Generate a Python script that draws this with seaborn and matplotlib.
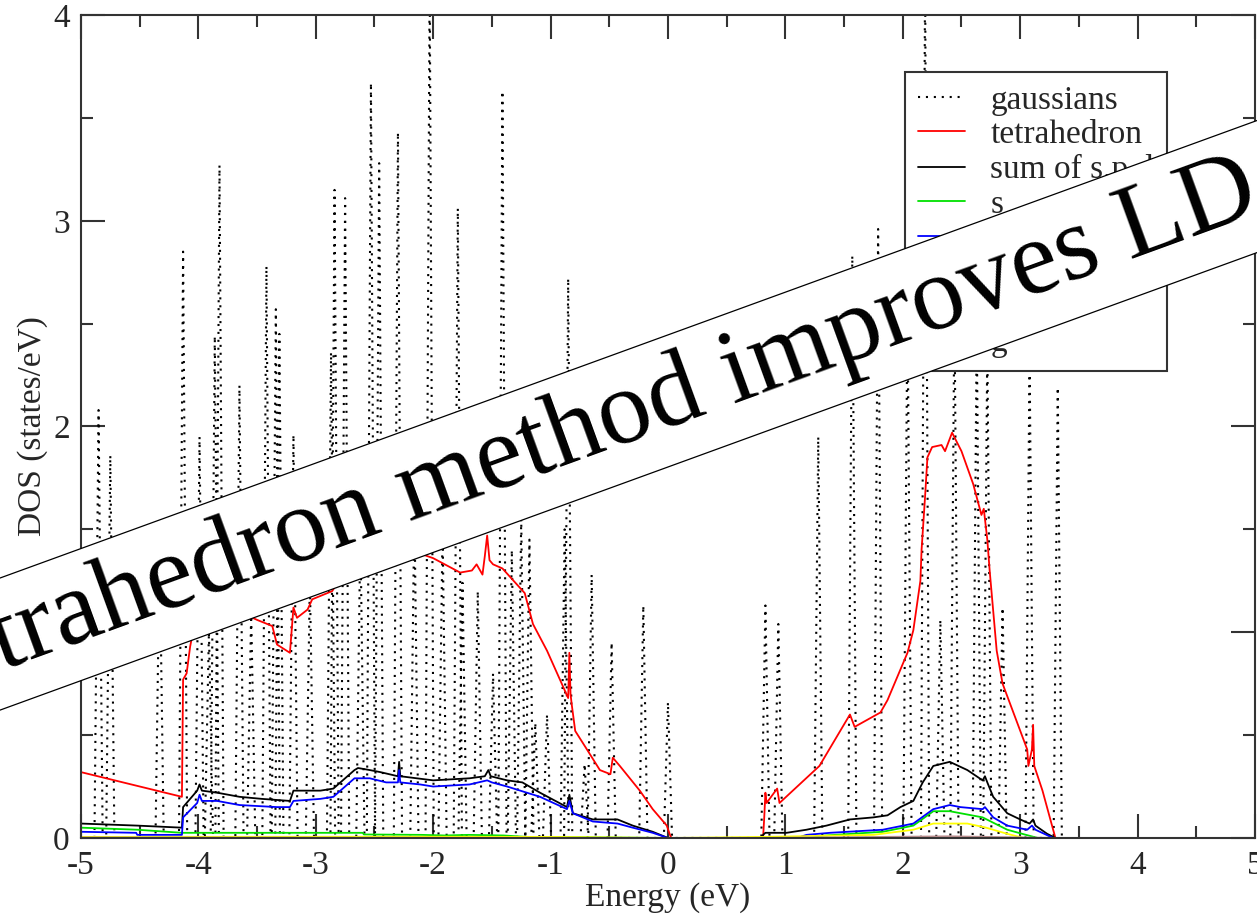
import numpy as np
import matplotlib
matplotlib.use("Agg")
import matplotlib.pyplot as plt
import seaborn as sns

sns.set_theme(style="ticks")
plt.rcParams['font.family'] = ['Liberation Serif', 'DejaVu Serif']
plt.rcParams['axes.unicode_minus'] = False

# gaussian-broadened DOS: spike centres (eV) and heights (states/eV)
peak_e = [-4.85, -4.75, -4.33, -4.13, -3.99, -3.91, -3.86, -3.82, -3.65, -3.55,
          -3.42, -3.34, -3.31, -3.19, -3.05, -2.87, -2.84, -2.75, -2.62, -2.53,
          -2.46, -2.30, -2.16, -2.03, -1.92, -1.79, -1.75, -1.62, -1.49, -1.41,
          -1.33, -1.25, -1.18, -1.13, -1.03, -0.88, -0.85, -0.71, -0.65, -0.48,
          -0.21, 0.00,
          0.83, 0.94, 1.28, 1.57, 1.79, 2.04, 2.19, 2.32, 2.44, 2.63, 2.72, 2.85,
          3.08, 3.32]
peak_h = [2.08, 1.86, 1.40, 2.85, 1.95, 1.00, 2.44, 3.27, 2.20, 1.10,
          2.78, 2.57, 2.45, 1.96, 1.25, 2.36, 3.15, 3.11, 1.50, 3.67,
          3.28, 3.43, 1.60, 4.20, 1.50, 3.06, 1.24, 1.20, 0.80, 3.63,
          1.40, 1.55, 1.45, 0.56, 0.60, 1.50, 2.72, 0.36, 1.28, 0.95,
          1.13, 0.66,
          1.13, 1.04, 1.95, 2.83, 2.96, 2.60, 4.20, 1.06, 2.60, 2.50, 2.40, 1.12,
          2.35, 2.19]

# tetrahedron total DOS
tet_e = [-5.00, -4.14, -4.13, -4.10, -4.07, -4.03, -3.95, -3.80, -3.65, -3.50,
         -3.37, -3.33, -3.22, -3.19, -3.16, -3.07, -3.03, -2.86, -2.75, -2.62,
         -2.50, -2.35, -2.20, -2.00, -1.77, -1.67, -1.63, -1.58, -1.56, -1.54,
         -1.52, -1.49, -1.41, -1.22, -1.15, -1.03, -0.85, -0.84, -0.83, -0.82,
         -0.79, -0.69, -0.58, -0.49, -0.47, -0.41, -0.24, -0.13, -0.01, 0.02,
         0.03, 0.80,
         0.81, 0.82, 0.83, 0.84, 0.93, 0.95, 1.29, 1.55, 1.59, 1.81,
         1.87, 2.04, 2.09, 2.15, 2.16, 2.19, 2.21, 2.25, 2.33, 2.36,
         2.42, 2.50, 2.60, 2.67, 2.69, 2.70, 2.72, 2.74, 2.80, 2.85,
         3.06, 3.07, 3.10, 3.11, 3.12, 3.19, 3.30]
tet_dos = [0.32, 0.20, 0.77, 0.80, 0.93, 1.05, 1.15, 1.15, 1.10, 1.06,
           1.03, 0.94, 0.90, 1.12, 1.07, 1.11, 1.16, 1.20, 1.30, 1.45,
           1.45, 1.42, 1.40, 1.36, 1.29, 1.30, 1.33, 1.28, 1.37, 1.47,
           1.35, 1.33, 1.31, 1.19, 1.04, 0.91, 0.68, 0.90, 0.70, 0.65,
           0.52, 0.43, 0.33, 0.31, 0.39, 0.35, 0.23, 0.14, 0.06, 0.01,
           0.00, 0.00,
           0.00, 0.10, 0.22, 0.17, 0.24, 0.17, 0.35, 0.60, 0.54, 0.61,
           0.67, 0.90, 1.01, 1.25, 1.40, 1.66, 1.85, 1.90, 1.91, 1.88,
           1.97, 1.88, 1.72, 1.57, 1.60, 1.55, 1.45, 1.30, 0.91, 0.75,
           0.43, 0.35, 0.43, 0.55, 0.35, 0.23, 0.00]

# sum of projected s, p, d
sum_e = [-5.00, -4.52, -4.14, -4.13, -4.01, -3.99, -3.97, -3.84, -3.65, -3.46,
         -3.22, -3.19, -2.96, -2.85, -2.77, -2.67, -2.64, -2.54, -2.45, -2.30,
         -2.29, -2.28, -2.00, -1.69, -1.56, -1.53, -1.51, -1.37, -1.24, -1.09,
         -0.86, -0.84, -0.81, -0.64, -0.43, -0.30, -0.13, 0.00, 0.80,
         0.81, 0.83, 1.01, 1.18, 1.35, 1.55, 1.75, 1.87, 1.98, 2.09,
         2.17, 2.26, 2.40, 2.55, 2.68, 2.70, 2.72, 2.77, 2.89, 3.00,
         3.08, 3.11, 3.13, 3.23, 3.30]
sum_dos = [0.07, 0.06, 0.05, 0.15, 0.23, 0.26, 0.23, 0.22, 0.20, 0.19,
           0.18, 0.23, 0.23, 0.24, 0.28, 0.33, 0.34, 0.33, 0.32, 0.30,
           0.37, 0.30, 0.28, 0.29, 0.30, 0.33, 0.30, 0.28, 0.27, 0.22,
           0.15, 0.21, 0.12, 0.09, 0.09, 0.06, 0.03, 0.00, 0.00,
           0.015, 0.025, 0.025, 0.04, 0.06, 0.09, 0.10, 0.11, 0.15, 0.18,
           0.27, 0.35, 0.37, 0.33, 0.28, 0.30, 0.27, 0.20, 0.12, 0.09,
           0.07, 0.09, 0.06, 0.02, 0.00]

s_e = [-5.00, -4.52, -4.14, -2.60, -2.59, -2.10, -1.90, -1.70, -1.40, -1.20,
       0.00, 1.20, 1.29, 1.83, 2.09, 2.26, 2.40, 2.68, 2.89, 3.05, 3.15]
s_dos = [0.05, 0.04, 0.025, 0.025, 0.017, 0.015, 0.012, 0.015, 0.012, 0.005,
         0.00, 0.00, 0.01, 0.03, 0.06, 0.13, 0.13, 0.10, 0.04, 0.015, 0.00]

p_e = [-5.00, -4.53, -4.52, -4.14, -4.13, -4.01, -3.99, -3.97, -3.84, -3.65,
       -3.33, -3.22, -3.19, -2.96, -2.85, -2.67, -2.54, -2.40, -2.30, -2.29,
       -2.28, -2.11, -2.00, -1.69, -1.54, -1.50, -1.37, -1.09, -0.86, -0.84,
       -0.81, -0.64, -0.43, -0.30, -0.13, 0.00, 1.10,
       1.18, 1.38, 1.83, 2.09, 2.26, 2.40, 2.49, 2.68, 2.70, 2.77,
       2.89, 3.06, 3.10, 3.13, 3.28]
p_dos = [0.03, 0.025, 0.015, 0.015, 0.10, 0.17, 0.21, 0.18, 0.18, 0.16,
         0.15, 0.15, 0.18, 0.19, 0.20, 0.29, 0.29, 0.27, 0.27, 0.33,
         0.27, 0.26, 0.25, 0.26, 0.28, 0.27, 0.25, 0.20, 0.14, 0.18,
         0.12, 0.08, 0.07, 0.05, 0.025, 0.00, 0.00,
         0.015, 0.025, 0.04, 0.07, 0.14, 0.16, 0.15, 0.14, 0.15, 0.10,
         0.06, 0.04, 0.06, 0.04, 0.00]

d_e = [-5.00, -2.00, -1.00, 0.00, 0.81, 1.75, 2.09, 2.26, 2.55, 2.71, 2.89, 3.03]
d_dos = [0.005, 0.006, 0.005, 0.00, 0.005, 0.015, 0.04, 0.07, 0.07, 0.05, 0.02, 0.00]

f_e = [-5.00, 0.00, 0.80, 2.40, 3.30]
f_dos = [0.002, 0.00, 0.00, 0.008, 0.00]

g_e = [-5.00, 3.30]
g_dos = [0.00, 0.00]

# build the spiky gaussian curve from the peaks
hw = 0.035
gx, gy = [], []
for e, h in zip(peak_e, peak_h):
    gx += [e - hw, e, e + hw]
    gy += [0.0, h, 0.0]

fig = plt.figure(figsize=(12.57, 9.17), dpi=100)
ax = fig.add_axes([0.0644, 0.0862, 0.934, 0.8974])

kw = dict(ax=ax, estimator=None, sort=False, linewidth=1.3)
sns.lineplot(x=gx, y=gy, color="black", linestyle=(0, (1, 2.8)), label="gaussians",
             **{**kw, "linewidth": 1.5})
sns.lineplot(x=tet_e, y=tet_dos, color="#ff0000", label="tetrahedron", **kw)
sns.lineplot(x=sum_e, y=sum_dos, color="black", label="sum of s,p,d", **kw)
sns.lineplot(x=s_e, y=s_dos, color="#00e000", label="s", **kw)
sns.lineplot(x=p_e, y=p_dos, color="#0000ff", label="p", **kw)
sns.lineplot(x=d_e, y=d_dos, color="#ffff00", label="d", **kw)
sns.lineplot(x=f_e, y=f_dos, color="#bc8f8f", label="f", **kw)
sns.lineplot(x=g_e, y=g_dos, color="#dcdcdc", label="g", **kw)

ax.set_xlim(-5, 5)
ax.set_ylim(0, 4)
ax.set_xticks(range(-5, 6))
ax.set_yticks(range(0, 5))
ax.set_xticks(np.arange(-4.5, 5, 1.0), minor=True)
ax.set_yticks(np.arange(0.5, 4, 1.0), minor=True)
ax.tick_params(which="both", direction="in", top=True, right=True, width=1.5,
               color="#333333", labelsize=24)
ax.tick_params(which="major", length=17)
ax.tick_params(which="minor", length=8.5)
ax.tick_params(axis="x", pad=9)
ax.tick_params(axis="y", pad=8)
for sp in ax.spines.values():
    sp.set_linewidth(1.5)
    sp.set_color("#333333")

ax.set_xlabel("Energy (eV)", fontsize=24, labelpad=1)
ax.set_ylabel("DOS (states/eV)", fontsize=24, labelpad=4)

leg = ax.legend(loc="upper left", bbox_to_anchor=(0.702, 0.931), borderaxespad=0,
                fontsize=24, frameon=True, fancybox=False, framealpha=1,
                edgecolor="#333333", handlelength=1.41, handletextpad=0.75,
                labelspacing=0.12, borderpad=0.4)
leg.get_frame().set_linewidth(1.5)

# diagonal banner across the figure
fig.text(0.4964, 0.5453, "tetrahedron method improves LDA", fontsize=76.5,
         ha="center", va="center", rotation=20.0, rotation_mode="anchor",
         color="black",
         bbox=dict(boxstyle="square,pad=0.13", fc="white", ec="black", lw=0.9))

fig.savefig("out.png", dpi=100)
